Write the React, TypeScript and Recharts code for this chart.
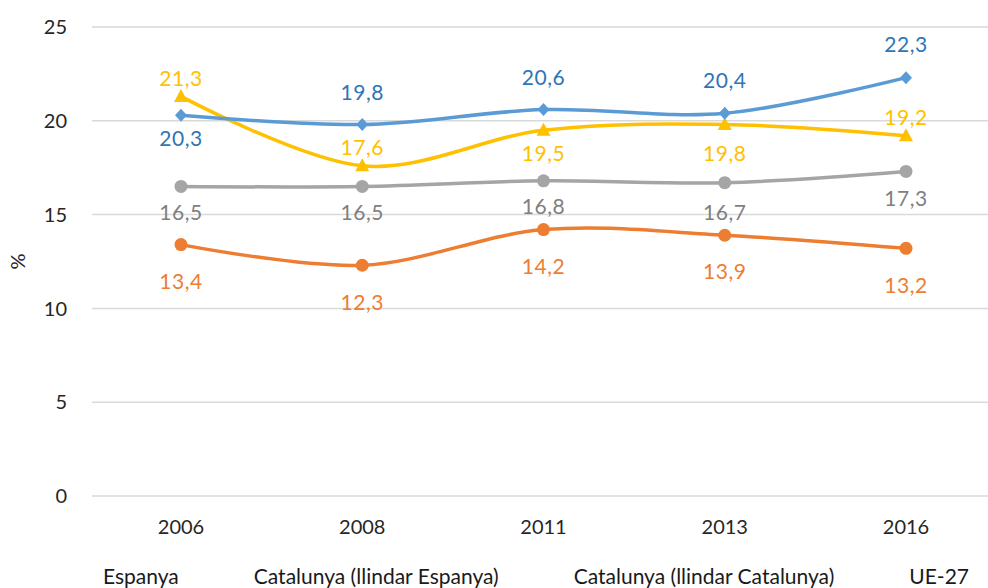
import React from 'react';
import { LineChart, Line, XAxis, YAxis, CartesianGrid, Legend, LabelList } from 'recharts';

const years = ['2006', '2008', '2011', '2013', '2016'];
const espanya = [20.3, 19.8, 20.6, 20.4, 22.3];
const catEsp = [13.4, 12.3, 14.2, 13.9, 13.2];
const catCat = [16.5, 16.5, 16.8, 16.7, 17.3];
const ue27 = [21.3, 17.6, 19.5, 19.8, 19.2];
const yTicks = [0, 5, 10, 15, 20, 25];

const seriesNames = ['Espanya', 'Catalunya (llindar Espanya)', 'Catalunya (llindar Catalunya)', 'UE-27'];

// label vertical offsets (px) relative to point
const labelDyEsp = [23, -32, -32, -33, -33];
const labelDyCatEsp = [37, 37, 37, 36, 37];
const labelDyCatCat = [26, 26, 26, 30, 27];
const labelDyUe = [-18, -18, 23, 29, -18];

const data = years.map((y, i) => ({
  year: y,
  espanya: espanya[i],
  catEsp: catEsp[i],
  catCat: catCat[i],
  ue27: ue27[i],
}));

// Cardinal (Catmull-Rom like) curve factory, similar to Excel smoothing
function makeCardinal(tension: number) {
  const k = (1 - tension) / 6;
  return function (context: any) {
    const s: any = {
      _context: context,
      _line: NaN,
      _point: 0,
      _x0: NaN, _x1: NaN, _x2: NaN, _y0: NaN, _y1: NaN, _y2: NaN,
    };
    const pt = (x: number, y: number) => {
      s._context.bezierCurveTo(
        s._x1 + k * (s._x2 - s._x0),
        s._y1 + k * (s._y2 - s._y0),
        s._x2 + k * (s._x1 - x),
        s._y2 + k * (s._y1 - y),
        s._x2,
        s._y2
      );
    };
    return {
      areaStart() { s._line = 0; },
      areaEnd() { s._line = NaN; },
      lineStart() {
        s._x0 = s._x1 = s._x2 = s._y0 = s._y1 = s._y2 = NaN;
        s._point = 0;
      },
      lineEnd() {
        switch (s._point) {
          case 2: s._context.lineTo(s._x2, s._y2); break;
          case 3: pt(s._x1, s._y1); break;
        }
        if (s._line || (s._line !== 0 && s._point === 1)) s._context.closePath();
        s._line = 1 - s._line;
      },
      point(x: number, y: number) {
        x = +x; y = +y;
        switch (s._point) {
          case 0: s._point = 1; s._line ? s._context.lineTo(x, y) : s._context.moveTo(x, y); break;
          case 1: s._point = 2; s._x1 = x; s._y1 = y; break;
          case 2: s._point = 3; pt(x, y); break;
          default: pt(x, y); break;
        }
        s._x0 = s._x1; s._x1 = s._x2; s._x2 = x;
        s._y0 = s._y1; s._y1 = s._y2; s._y2 = y;
      },
    };
  };
}
const smooth: any = makeCardinal(0);

const FONT = 'Lato, "Noto Sans", sans-serif';

const C_BLUE = '#5B9BD5';
const C_ORANGE = '#ED7D31';
const C_GRAY = '#A5A5A5';
const C_YELLOW = '#FFC000';

const Diamond = (props: any) => {
  const { cx, cy, index } = props;
  if (cx == null || cy == null) return null;
  const w = 6, h = 6.5;
  return <path key={`d${index}`} d={`M${cx},${cy - h}L${cx + w},${cy}L${cx},${cy + h}L${cx - w},${cy}Z`} fill={C_BLUE} />;
};
const makeCircle = (color: string) => (props: any) => {
  const { cx, cy, index } = props;
  if (cx == null || cy == null) return null;
  return <circle key={`c${index}`} cx={cx} cy={cy} r={6.5} fill={color} />;
};
const Triangle = (props: any) => {
  const { cx, cy, index } = props;
  if (cx == null || cy == null) return null;
  const w = 7, h = 6.5;
  return <path key={`t${index}`} d={`M${cx},${cy - h - 1}L${cx + w},${cy + h - 1}L${cx - w},${cy + h - 1}Z`} fill={C_YELLOW} />;
};

const makeLabel = (color: string, dys: number[]) => (props: any) => {
  const { x, y, value, index } = props;
  if (x == null || y == null) return null;
  return (
    <text
      key={`l${index}`}
      x={x}
      y={y + dys[index]}
      dy="0.36em"
      textAnchor="middle"
      fill={color}
      fontSize={21}
      fontFamily={FONT}
      letterSpacing={0.5}
    >
      {String(value).replace('.', ',')}
    </text>
  );
};

const LegendContent = () => (
  <div
    style={{
      height: 24,
      display: 'flex',
      alignItems: 'center',
      paddingLeft: 103,
      fontFamily: FONT,
      fontSize: 21,
      color: '#1a1a1a',
      whiteSpace: 'nowrap',
      lineHeight: '24px',
    }}
  >
    {seriesNames.map((n, i) => (
      <span key={n} style={{ marginRight: i < seriesNames.length - 1 ? 75 : 0 }}>{n}</span>
    ))}
  </div>
);

const YLabel = (props: any) => {
  const { viewBox } = props;
  const x = viewBox.x + 18;
  const y = viewBox.y + viewBox.height / 2;
  return (
    <text x={x} y={y} transform={`rotate(-90 ${x} ${y})`} textAnchor="middle" dy="0.36em" fontSize={20} fontFamily={FONT} fill="#262626">
      %
    </text>
  );
};

export default function App() {
  return (
    <div style={{ position: 'absolute', left: 0, top: 0, width: 988, height: 588, background: '#fff', overflow: 'hidden' }}>
      <LineChart width={988} height={588} data={data} margin={{ top: 27, right: 0, bottom: 0, left: 0 }}>
        <CartesianGrid vertical={false} stroke="#D9D9D9" strokeWidth={1.5} />
        <XAxis
          dataKey="year"
          axisLine={false}
          tickLine={false}
          tickSize={6}
          tickMargin={18}
          height={68}
          padding={{ left: 89, right: 82 }}
          tick={{ fontSize: 20, fontFamily: FONT, fill: '#262626' }}
          interval={0}
        />
        <YAxis
          domain={[0, 25]}
          ticks={yTicks}
          axisLine={false}
          tickLine={false}
          width={92}
          tickSize={6}
          tickMargin={19}
          tick={{ fontSize: 20, fontFamily: FONT, fill: '#262626' }}
          label={<YLabel />}
        />
        <Legend verticalAlign="bottom" content={<LegendContent />} />
        <Line dataKey="catCat" name={seriesNames[2]} type={smooth} stroke={C_GRAY} strokeWidth={3.5} dot={makeCircle(C_GRAY)} activeDot={false} isAnimationActive={false}>
          <LabelList dataKey="catCat" content={makeLabel('#7F7F7F', labelDyCatCat)} />
        </Line>
        <Line dataKey="catEsp" name={seriesNames[1]} type={smooth} stroke={C_ORANGE} strokeWidth={3.5} dot={makeCircle(C_ORANGE)} activeDot={false} isAnimationActive={false}>
          <LabelList dataKey="catEsp" content={makeLabel('#ED7D31', labelDyCatEsp)} />
        </Line>
        <Line dataKey="ue27" name={seriesNames[3]} type={smooth} stroke={C_YELLOW} strokeWidth={3.5} dot={Triangle} activeDot={false} isAnimationActive={false}>
          <LabelList dataKey="ue27" content={makeLabel('#FFC000', labelDyUe)} />
        </Line>
        <Line dataKey="espanya" name={seriesNames[0]} type={smooth} stroke={C_BLUE} strokeWidth={3.5} dot={Diamond} activeDot={false} isAnimationActive={false}>
          <LabelList dataKey="espanya" content={makeLabel('#2E75B6', labelDyEsp)} />
        </Line>
      </LineChart>
    </div>
  );
}
